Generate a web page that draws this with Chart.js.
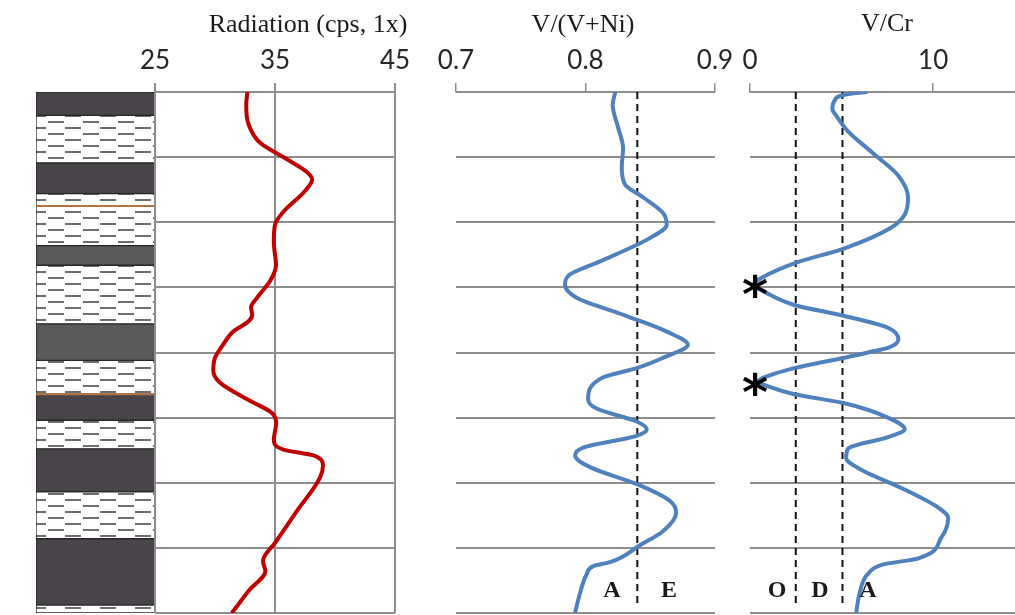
<!DOCTYPE html>
<html>
<head>
<meta charset="utf-8">
<script src="https://cdn.jsdelivr.net/npm/chart.js@4.4.1/dist/chart.umd.min.js"></script>
<style>
  html, body { margin: 0; padding: 0; background: #fff; }
  #wrap { position: relative; width: 1015px; height: 615px; overflow: hidden; }
  #wrap canvas { position: absolute; left: 0; top: 0; }
</style>
</head>
<body>
<div id="wrap">
  <canvas id="lith" width="1015" height="615"></canvas>
  <canvas id="rad" width="1015" height="615"></canvas>
  <canvas id="vni" width="1015" height="615"></canvas>
  <canvas id="vcr" width="1015" height="615"></canvas>
</div>
<script>
/* ── Data ── */
const DEPTH_MIN = 89;
const DEPTH_MAX = 93;

// lithology column
const LITH_TOP  = [89.0, 89.18, 89.545, 89.78, 90.18, 90.33, 90.78, 91.06, 91.32, 91.52, 91.74, 92.07, 92.43, 92.94];
const LITH_BASE = [89.18, 89.545, 89.78, 90.18, 90.33, 90.78, 91.06, 91.32, 91.52, 91.74, 92.07, 92.43, 92.94, 93.0];
const LITH_TYPE = ['dark', 'shale', 'dark', 'shale', 'gray', 'shale', 'gray', 'shale', 'dark', 'shale', 'dark', 'shale', 'dark', 'shale'];
const MARKER_DEPTHS = [89.875, 91.32];

// radiation log
const RAD_TICKS = [25, 35, 45];
const RAD_DEPTH = [89.0, 89.1, 89.25, 89.39, 89.5, 89.61, 89.67, 89.76, 89.92, 90.02, 90.15, 90.33, 90.45, 90.58, 90.655, 90.71, 90.76, 90.84, 90.95, 91.04, 91.14, 91.23, 91.37, 91.46, 91.54, 91.67, 91.745, 91.79, 91.87, 91.96, 92.22, 92.45, 92.6, 92.68, 92.82, 93.0];
const RAD_CPS   = [32.7, 32.6, 32.8, 33.75, 35.7, 37.6, 38.1, 37.5, 35.7, 35.0, 34.9, 35.08, 34.6, 33.5, 33.0, 33.1, 32.8, 31.5, 30.6, 30.0, 29.86, 30.4, 32.9, 34.7, 35.1, 34.9, 35.7, 38.2, 39.0, 38.75, 36.8, 35.1, 34.0, 34.2, 32.9, 31.4];

// V/(V+Ni)
const VNI_TICKS = [0.7, 0.8, 0.9];
const VNI_THRESHOLD = [0.84];
const VNI_DEPTH = [89.0, 89.1, 89.28, 89.43, 89.58, 89.71, 89.81, 89.93, 90.02, 90.12, 90.3, 90.4, 90.48, 90.58, 90.72, 90.84, 90.94, 91.04, 91.12, 91.19, 91.36, 91.43, 91.53, 91.59, 91.64, 91.73, 91.79, 91.88, 92.02, 92.14, 92.23, 92.37, 92.48, 92.61, 92.64, 92.7, 92.85, 93.0];
const VNI       = [0.823, 0.821, 0.8254, 0.829, 0.828, 0.8305, 0.8447, 0.86, 0.8627, 0.85, 0.8112, 0.788, 0.7842, 0.7932, 0.8318, 0.8627, 0.879, 0.86, 0.8395, 0.8138, 0.802, 0.8086, 0.8395, 0.8473, 0.8395, 0.7983, 0.792, 0.8035, 0.842, 0.8653, 0.87, 0.86, 0.842, 0.8189, 0.806, 0.801, 0.7957, 0.7919];

// V/Cr
const VCR_TICKS = [0, 10];
const VCR_THRESHOLDS = [2.5, 5.05];
const VCR_DEPTH = [89.0, 89.02, 89.07, 89.13, 89.19, 89.3, 89.48, 89.64, 89.81, 89.94, 90.04, 90.2, 90.315, 90.4, 90.475, 90.55, 90.635, 90.72, 90.81, 90.9, 90.96, 91.0, 91.04, 91.12, 91.18, 91.22, 91.26, 91.32, 91.39, 91.5, 91.59, 91.65, 91.74, 91.81, 91.9, 92.04, 92.19, 92.27, 92.42, 92.58, 92.63, 92.7, 92.85, 93.0];
const VCR       = [6.4, 5.2, 4.6, 4.5, 4.75, 5.34, 6.8, 8.08, 8.63, 8.45, 7.72, 5.16, 2.42, 1.0, 0.22, 1.0, 2.42, 5.16, 7.53, 8.1, 7.6, 6.44, 5.16, 2.42, 1.0, 0.45, 1.0, 2.42, 5.16, 7.53, 8.45, 7.53, 5.34, 5.25, 6.07, 8.26, 10.27, 10.82, 10.45, 9.2, 7.2, 6.44, 5.98, 5.8];

/* ── Styles ── */
const GRID = '#8e8e8e';
const RED = '#c00000';
const BLUE = '#4f81bd';
const TITLE_FONT = '26px "Liberation Serif"';
const LETTER_FONT = 'bold 24px "Liberation Serif"';
const STAR_FONT = 'bold 50px "DejaVu Sans"';

function shalePattern() {
  const c = document.createElement('canvas');
  c.width = 35; c.height = 12;
  const g = c.getContext('2d');
  g.fillStyle = '#fff';
  g.fillRect(0, 0, 35, 12);
  g.fillStyle = '#6e6e6e';
  g.fillRect(13, 1, 16, 2);
  g.fillRect(30, 7, 5, 2);
  g.fillRect(0, 7, 11, 2);
  return g.createPattern(c, 'repeat');
}
const FILLS = { dark: '#48444a', gray: '#59595b', shale: shalePattern() };

/* ── Text / line overlay ── */
const annotate = {
  id: 'annotate',
  afterDraw(chart, args, opts) {
    const ctx = chart.ctx;
    ctx.save();
    (opts.lines || []).forEach(l => {
      ctx.strokeStyle = l.color; ctx.lineWidth = l.width;
      ctx.beginPath(); ctx.moveTo(l.x1, l.y1); ctx.lineTo(l.x2, l.y2); ctx.stroke();
    });
    (opts.texts || []).forEach(t => {
      ctx.font = t.font;
      ctx.fillStyle = t.color || '#1a1a1a';
      ctx.textAlign = t.align || 'center';
      ctx.textBaseline = t.baseline || 'alphabetic';
      ctx.fillText(t.text, t.x, t.y);
    });
    ctx.restore();
  }
};

const pts = (ys, xs) => ys.map((y, i) => ({ x: xs[i], y }));
const vline = (v, color) => ({
  data: [{ x: v, y: DEPTH_MIN }, { x: v, y: 92.94 }],
  borderColor: color || '#111', borderWidth: 2, borderDash: [7, 5],
  pointRadius: 0, tension: 0, order: 2
});

function depthAxis() {
  return {
    type: 'linear', min: DEPTH_MIN, max: DEPTH_MAX, reverse: true,
    afterFit: s => { s.width = 0; },
    ticks: { display: false, stepSize: 0.5 },
    grid: { color: GRID, lineWidth: 2, drawTicks: false },
    border: { display: false }
  };
}

function valueAxis(min, max, ticks, onArea) {
  return {
    type: 'linear', position: 'top', min, max,
    afterFit: s => { s.height = 92; },
    afterBuildTicks: s => { s.ticks = ticks.map(v => ({ value: v })); },
    ticks: { font: { family: 'Lato', size: 26 }, color: '#262626', padding: 7, callback: v => String(v) },
    grid: { drawOnChartArea: onArea, color: GRID, lineWidth: onArea ? 2 : 1.5, tickLength: 9 },
    border: { color: GRID, width: 1.5 }
  };
}

function logChart(id, datasets, xAxis, left, right, overlay) {
  return new Chart(document.getElementById(id), {
    type: 'line',
    data: { datasets },
    options: {
      responsive: false, animation: false, devicePixelRatio: 1,
      indexAxis: 'y',
      layout: { padding: { left, right: 1015 - right, top: 0, bottom: 2 } },
      plugins: { legend: { display: false }, tooltip: { enabled: false }, annotate: overlay },
      scales: { x: xAxis, y: depthAxis() }
    },
    plugins: [annotate]
  });
}

/* ── Lithology column ── */
new Chart(document.getElementById('lith'), {
  type: 'bar',
  data: {
    datasets: [
      {
        data: LITH_TOP.map((t, i) => ({ x: 0.5, y: [t, LITH_BASE[i]] })),
        backgroundColor: LITH_TYPE.map(k => FILLS[k]),
        borderColor: '#262626', borderWidth: 1, borderSkipped: false,
        barThickness: 119, grouped: false, order: 2
      },
      ...MARKER_DEPTHS.map(d => ({
        type: 'line', data: [{ x: 0, y: d }, { x: 1, y: d }],
        borderColor: '#b5733f', borderWidth: 2, pointRadius: 0, order: 1
      }))
    ]
  },
  options: {
    responsive: false, animation: false, devicePixelRatio: 1,
    layout: { padding: { left: 36, right: 1015 - 155, top: 92, bottom: 2 } },
    plugins: {
      legend: { display: false }, tooltip: { enabled: false },
      annotate: {
        lines: [
          { x1: 12, y1: 92, x2: 155, y2: 92, color: '#333', width: 1.5 },
          { x1: 12, y1: 352, x2: 36, y2: 352, color: '#333', width: 1.5 },
          { x1: 12, y1: 612.5, x2: 155, y2: 612.5, color: '#333', width: 1.5 }
        ],
        texts: [
          { text: '89', x: 22, y: 104, font: '18px Lato', baseline: 'middle' },
          { text: '91', x: 22, y: 341, font: '18px Lato', baseline: 'middle' },
          { text: '93', x: 22, y: 601, font: '18px Lato', baseline: 'middle' }
        ]
      }
    },
    scales: {
      x: { type: 'linear', min: 0, max: 1, offset: false, display: false },
      y: { type: 'linear', min: DEPTH_MIN, max: DEPTH_MAX, reverse: true, display: false }
    }
  }
});

/* ── Radiation ── */
logChart('rad', [
  { data: pts(RAD_DEPTH, RAD_CPS), borderColor: RED, borderWidth: 4, pointRadius: 0, cubicInterpolationMode: 'monotone' }
], valueAxis(25, 45, RAD_TICKS, true), 155, 395, {
  texts: [{ text: 'Radiation (cps, 1x)', x: 308, y: 32, font: TITLE_FONT }]
});

/* ── V/(V+Ni) ── */
logChart('vni', [
  { data: pts(VNI_DEPTH, VNI), borderColor: BLUE, borderWidth: 4, pointRadius: 0, cubicInterpolationMode: 'monotone', order: 1 },
  ...VNI_THRESHOLD.map(v => vline(v))
], valueAxis(0.7, 0.9, VNI_TICKS, false), 456, 715, {
  texts: [
    { text: 'V/(V+Ni)', x: 583, y: 32, font: TITLE_FONT },
    { text: 'A', x: 612, y: 597, font: LETTER_FONT },
    { text: 'E', x: 669, y: 597, font: LETTER_FONT }
  ]
});

/* ── V/Cr ── */
logChart('vcr', [
  { data: pts(VCR_DEPTH, VCR), borderColor: BLUE, borderWidth: 4, pointRadius: 0, cubicInterpolationMode: 'monotone', order: 1 },
  ...VCR_THRESHOLDS.map(v => vline(v))
], valueAxis(0, 14.47, VCR_TICKS, false), 750, 1015, {
  texts: [
    { text: 'V/Cr', x: 887, y: 31, font: TITLE_FONT },
    { text: 'O', x: 777, y: 597, font: LETTER_FONT },
    { text: 'D', x: 820, y: 597, font: LETTER_FONT },
    { text: 'A', x: 868, y: 597, font: LETTER_FONT },
    { text: '*', x: 755, y: 312, font: STAR_FONT, color: '#000' },
    { text: '*', x: 755, y: 410, font: STAR_FONT, color: '#000' }
  ]
});
</script>
</body>
</html>
